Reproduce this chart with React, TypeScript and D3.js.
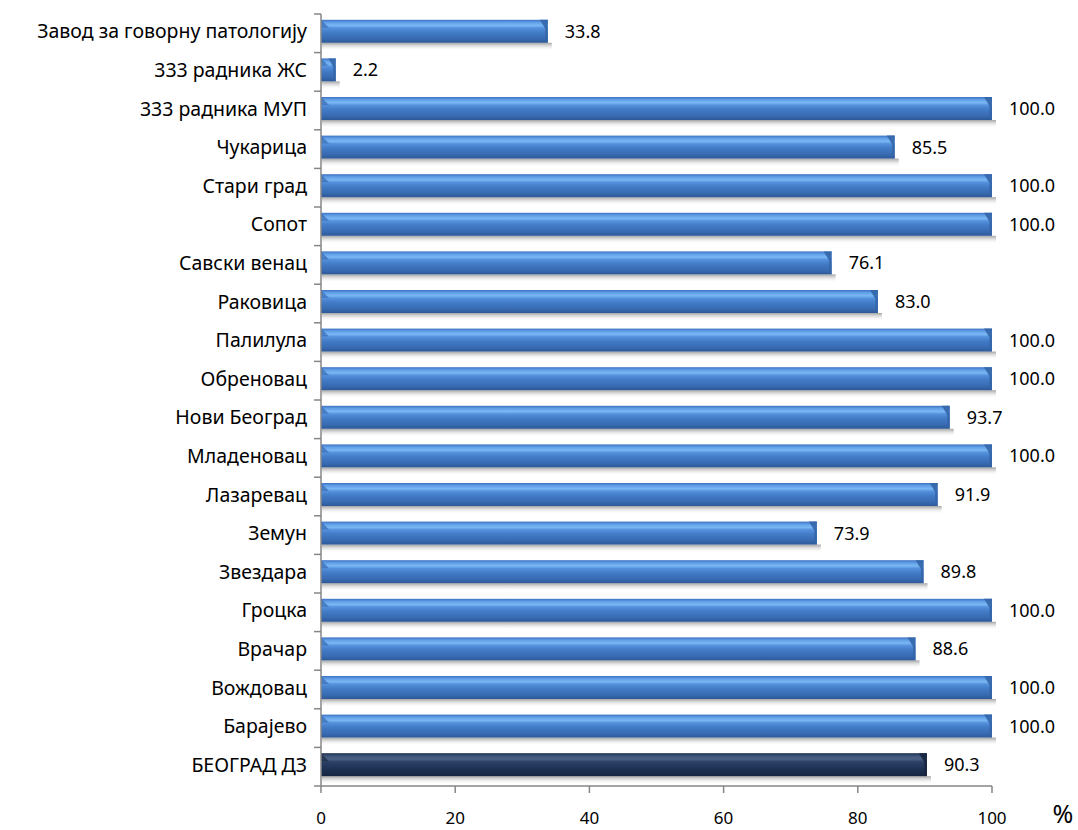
import React from "react";
import * as d3 from "d3";

const categories = [
  "Завод за говорну патологију",
  "333 радника ЖС",
  "333 радника МУП",
  "Чукарица",
  "Стари град",
  "Сопот",
  "Савски венац",
  "Раковица",
  "Палилула",
  "Обреновац",
  "Нови Београд",
  "Младеновац",
  "Лазаревац",
  "Земун",
  "Звездара",
  "Гроцка",
  "Врачар",
  "Вождовац",
  "Барајево",
  "БЕОГРАД ДЗ",
];

const values = [
  33.8, 2.2, 100.0, 85.5, 100.0, 100.0, 76.1, 83.0, 100.0, 100.0, 93.7, 100.0,
  91.9, 73.9, 89.8, 100.0, 88.6, 100.0, 100.0, 90.3,
];

const xTicks = [0, 20, 40, 60, 80, 100];
const unitLabel = "%";

const W = 1078;
const H = 830;
const left = 321;
const right = 992;
const top = 14;
const bottom = 786;
const font = "'Noto Sans', 'Open Sans', sans-serif";

export default function App() {
  const x = d3.scaleLinear().domain([0, 100]).range([left, right]);
  const y = d3
    .scaleBand<string>()
    .domain(categories)
    .range([top, bottom])
    .padding(0);
  const bw = y.bandwidth();
  const barH = 23;
  const boundaries = d3.range(categories.length + 1).map((i) => top + i * bw);

  return (
    <svg
      width={W}
      height={H}
      style={{ position: "absolute", left: 0, top: 0, background: "#fff" }}
    >
      <defs>
        <linearGradient id="blueBar" x1="0" y1="0" x2="0" y2="1">
          <stop offset="0" stopColor="#3d72c2" />
          <stop offset="0.12" stopColor="#62a0e8" />
          <stop offset="0.25" stopColor="#7ab7f4" />
          <stop offset="0.36" stopColor="#5490dc" />
          <stop offset="0.55" stopColor="#427bc6" />
          <stop offset="0.82" stopColor="#386bb2" />
          <stop offset="1" stopColor="#2d5897" />
        </linearGradient>
        <linearGradient id="darkBar" x1="0" y1="0" x2="0" y2="1">
          <stop offset="0" stopColor="#1a2d4d" />
          <stop offset="0.12" stopColor="#3f5578" />
          <stop offset="0.25" stopColor="#4c6285" />
          <stop offset="0.38" stopColor="#2b4066" />
          <stop offset="0.65" stopColor="#1f3356" />
          <stop offset="1" stopColor="#152540" />
        </linearGradient>
        <linearGradient id="shadow" x1="0" y1="0" x2="0" y2="1">
          <stop offset="0" stopColor="#8c8c8c" stopOpacity="0.8" />
          <stop offset="1" stopColor="#ffffff" stopOpacity="0" />
        </linearGradient>
      </defs>

      {/* bars */}
      {categories.map((c, i) => {
        const v = values[i];
        const yc = (y(c) as number) + bw / 2;
        const y0 = yc - barH / 2 - 2;
        const x0 = x(0);
        const x1 = x(v);
        const dark = i === categories.length - 1;
        const bev = Math.min(8, (x1 - x0) / 2);
        return (
          <g key={c}>
            <rect
              x={x0 + 1}
              y={y0 + barH}
              width={Math.max(0, x1 - x0 + 3)}
              height={8}
              fill="url(#shadow)"
            />
            <rect
              x={x0}
              y={y0}
              width={x1 - x0}
              height={barH}
              fill={dark ? "url(#darkBar)" : "url(#blueBar)"}
            />
            <polygon
              points={`${x0},${y0} ${x0 + bev},${y0 + bev} ${x0},${y0 + bev}`}
              fill={dark ? "#1d2c46" : "#3a6db5"}
              opacity={0.75}
            />
            <polygon
              points={`${x1 - bev},${y0} ${x1},${y0} ${x1},${y0 + barH} ${x1 - 2.5},${y0 + barH - 2} ${x1 - 2.5},${y0 + bev + 1}`}
              fill={dark ? "#16243d" : "#3465a8"}
              opacity={0.9}
            />
            <text
              x={x1 + 17}
              y={yc - 2}
              dy="0.36em"
              fontFamily={font}
              fontSize={18}
              fill="#000"
            >
              {v.toFixed(1)}
            </text>
          </g>
        );
      })}

      {/* y axis */}
      <line x1={left} x2={left} y1={top} y2={bottom} stroke="#868686" strokeWidth={1.5} />
      {boundaries.map((b, i) => (
        <line key={i} x1={left - 7} x2={left} y1={b} y2={b} stroke="#868686" strokeWidth={1.5} />
      ))}
      {categories.map((c) => (
        <text
          key={c}
          x={307}
          y={(y(c) as number) + bw / 2 - 2}
          dy="0.36em"
          textAnchor="end"
          fontFamily={font}
          fontSize={19.5}
          fill="#000"
        >
          {c}
        </text>
      ))}

      {/* x axis */}
      <line x1={left} x2={right} y1={bottom} y2={bottom} stroke="#868686" strokeWidth={1.5} />
      {xTicks.map((t) => (
        <g key={t}>
          <line x1={x(t)} x2={x(t)} y1={bottom} y2={bottom + 7} stroke="#868686" strokeWidth={1.5} />
          <text
            x={x(t)}
            y={824}
            textAnchor="middle"
            fontFamily={font}
            fontSize={17}
            fill="#000"
          >
            {t}
          </text>
        </g>
      ))}
      <text x={1063} y={823} textAnchor="middle" fontFamily={font} fontSize={25} fill="#000">
        {unitLabel}
      </text>
    </svg>
  );
}
